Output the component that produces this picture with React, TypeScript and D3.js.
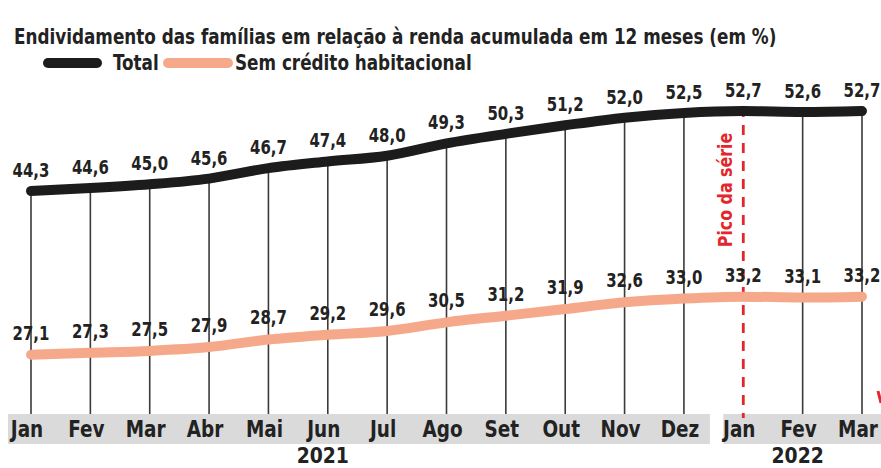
import React from "react";
import * as d3 from "d3";

const months = ["Jan", "Fev", "Mar", "Abr", "Mai", "Jun", "Jul", "Ago", "Set", "Out", "Nov", "Dez", "Jan", "Fev", "Mar"];
const keys = months.map((m, i) => `${m}-${i}`);
const total = [44.3, 44.6, 45.0, 45.6, 46.7, 47.4, 48.0, 49.3, 50.3, 51.2, 52.0, 52.5, 52.7, 52.6, 52.7];
const semCredito = [27.1, 27.3, 27.5, 27.9, 28.7, 29.2, 29.6, 30.5, 31.2, 31.9, 32.6, 33.0, 33.2, 33.1, 33.2];
const years = [
  { label: "2021", from: 0, to: 11, at: 5 },
  { label: "2022", from: 12, to: 14, at: 13 },
];
const peakIndex = 12;
const title = "Endividamento das famílias em relação à renda acumulada em 12 meses (em %)";
const legend = ["Total", "Sem crédito habitacional"];
const peakLabel = "Pico da série";

const W = 881, H = 468;
const FONT = "DejaVu Sans Condensed, DejaVu Sans, sans-serif";
const INK = "#222";
const BLACK = "#1c1c1c";
const SALMON = "#f6a98a";
const RED = "#e3262c";

type TProps = {
  x: number; y: number; size: number; sx?: number; anchor?: "start" | "middle" | "end";
  fill?: string; rotate?: number; children: React.ReactNode;
};
function T({ x, y, size, sx = 0.85, anchor = "start", fill = INK, rotate = 0, children }: TProps) {
  return (
    <text
      transform={`translate(${x},${y}) rotate(${rotate}) scale(${sx},1)`}
      fontFamily={FONT}
      fontWeight="bold"
      fontSize={size}
      fill={fill}
      textAnchor={anchor}
    >
      {children}
    </text>
  );
}

export default function App() {
  const x = d3.scalePoint<string>().domain(keys).range([31, 862]);
  const y = d3.scaleLinear().domain([20, 55]).range([422.3, 89.1]);
  const bandTop = 414, bandBot = 444;
  const fmt = (v: number) => v.toFixed(1).replace(".", ",");
  const line = d3.line<number>().x((_, i) => x(keys[i])!).y((v) => y(v)).curve(d3.curveMonotoneX);
  const px = (i: number) => x(keys[i])!;

  return (
    <svg width={W} height={H} style={{ position: "absolute", left: 0, top: 0, background: "#fff" }}>
      <T x={14} y={44} size={22} sx={0.85}>{title}</T>
      <line x1={48} x2={97} y1={63} y2={63} stroke={BLACK} strokeWidth={10} strokeLinecap="round" />
      <T x={113} y={70} size={22} sx={0.85}>{legend[0]}</T>
      <line x1={168} x2={228} y1={63} y2={63} stroke={SALMON} strokeWidth={10} strokeLinecap="round" />
      <T x={235} y={70} size={22} sx={0.85}>{legend[1]}</T>

      {years.map((yr) => {
        const x0 = yr.from === 0 ? 8 : px(yr.from) - 20;
        const x1 = yr.to === keys.length - 1 ? W : px(yr.to) + 26;
        return (
          <g key={yr.label}>
            <rect x={x0} y={bandTop} width={x1 - x0} height={bandBot - bandTop} fill="#dadada" />
            <T x={px(yr.at) - 5} y={463} size={22} sx={0.95} anchor="middle">{yr.label}</T>
          </g>
        );
      })}

      {total.map((v, i) =>
        i === peakIndex ? null : (
          <line key={i} x1={px(i)} x2={px(i)} y1={y(v) + 4} y2={bandTop} stroke="#3a3a3a" strokeWidth={1.6} />
        )
      )}

      <line x1={px(peakIndex)} x2={px(peakIndex)} y1={107} y2={bandTop + 4} stroke={RED} strokeWidth={2.8} strokeDasharray="10,8" />
      <T x={px(peakIndex) - 11} y={190} size={20} sx={0.88} anchor="middle" fill={RED} rotate={-90}>{peakLabel}</T>
      <path d="M878,391 L881,403" stroke={RED} strokeWidth={3} fill="none" />

      {months.map((m, i) => (
        <T key={i} x={px(i) - 4} y={437} size={23} sx={0.89} anchor="middle">{m}</T>
      ))}

      <path d={line(semCredito)!} fill="none" stroke={SALMON} strokeWidth={10} strokeLinecap="round" />
      <path d={line(total)!} fill="none" stroke={BLACK} strokeWidth={10} strokeLinecap="round" />

      {total.map((v, i) => (
        <T key={i} x={px(i)} y={y(v) - 14} size={20} sx={0.83} anchor="middle">{fmt(v)}</T>
      ))}
      {semCredito.map((v, i) => (
        <T key={i} x={px(i)} y={y(v) - 15} size={20} sx={0.83} anchor="middle">{fmt(v)}</T>
      ))}
    </svg>
  );
}
